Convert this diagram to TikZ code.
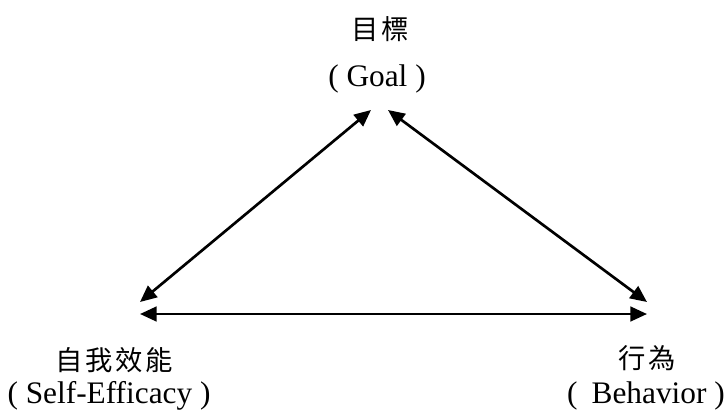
\documentclass[tikz,border=0pt]{standalone}
\usepackage{fontspec}
\setmainfont{Liberation Serif}
\newfontfamily\cjk[LetterSpace=10]{Noto Sans CJK TC}
\usetikzlibrary{arrows.meta}
\begin{document}
\begin{tikzpicture}[x=0.75pt,y=-0.75pt,
  lbl/.style={inner sep=0pt, anchor=base, font=\fontsize{23.5}{28}\selectfont},
  cjklbl/.style={inner sep=0pt, font=\cjk\fontsize{20.5}{24}\selectfont},
  link/.style={line width=2pt, {Triangle[length=12.5pt,width=11pt]}-{Triangle[length=12.5pt,width=11pt]}}]
\useasboundingbox (0,0) rectangle (726,419);
\node[cjklbl] (goalzh) at (380,29) {目標};
\node[lbl] (goalen) at (377,86) {( Goal )};
\node[cjklbl] (selfzh) at (114,360) {自我效能};
\node[lbl] (selfen) at (109,403) {( Self-Efficacy )};
\node[cjklbl] (behzh) at (647,358) {行為};
\node[lbl] (behen) at (646,403) {(\hspace{0.45em}Behavior )};
\coordinate (gL) at (371,110);
\coordinate (gR) at (388,110);
\coordinate (sT) at (140,302);
\coordinate (sH) at (140,314);
\coordinate (bT) at (647,302);
\coordinate (bH) at (647,314);
\draw[link] (sT) -- (gL);
\draw[link] (gR) -- (bT);
\draw[link] (sH) -- (bH);
\end{tikzpicture}
\end{document}
